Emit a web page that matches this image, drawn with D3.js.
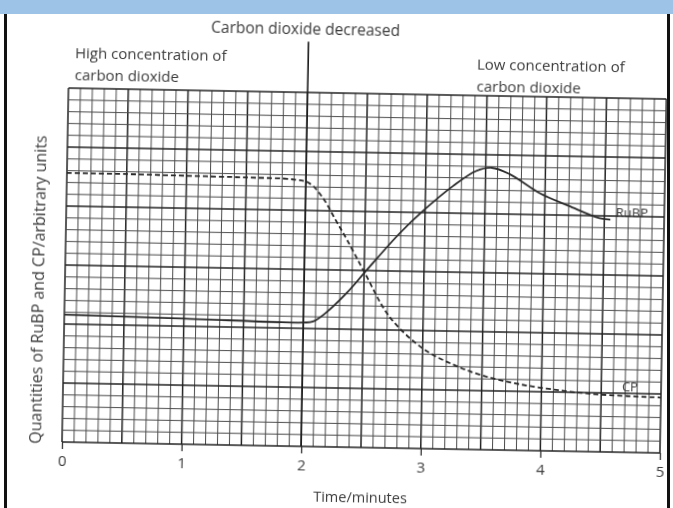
<!DOCTYPE html>
<html>
<head>
<meta charset="utf-8">
<script src="https://cdn.jsdelivr.net/npm/d3@7"></script>
<style>
  body { margin: 0; background: #fff; }
  svg { display: block; }
  .lbl { font-family: "Open Sans", sans-serif; fill: #3c3c3c; }
</style>
</head>
<body>
<div id="chart"></div>
<script>
// time in minutes, quantities in small grid squares (arbitrary units)
var cpTime = [0, 0.5, 1, 1.5, 1.9, 2.03, 2.15, 2.25, 2.35, 2.5, 2.72, 3.0, 3.25, 3.5, 3.82, 4.2, 4.5, 5.0];
var cpValue = [22.8, 22.8, 22.75, 22.7, 22.6, 22.3, 21.0, 19.3, 17.6, 14.9, 11.1, 8.5, 7.2, 6.3, 5.6, 5.1, 4.85, 4.7];

var rubpTime = [0, 1, 2.0, 2.08, 2.18, 2.36, 2.51, 2.79, 3.0, 3.23, 3.42, 3.55, 3.7, 3.96, 4.2, 4.46, 4.55];
var rubpValue = [10.8, 10.65, 10.5, 10.6, 11.3, 13.1, 14.9, 18.2, 20.3, 22.3, 23.6, 23.9, 23.4, 21.8, 20.8, 19.8, 19.7];

var xTicks = [0, 1, 2, 3, 4, 5];
var co2DropTime = 2;

var svgWidth = 673;
var svgHeight = 508;

// plot frame (the scan is tilted a little clockwise)
var origin = { x: 62, y: 442 };
var tilt = 1.05;
var width = 598;
var height = 354;

var svg = d3.select("#chart")
  .append("svg")
  .attr("width", svgWidth)
  .attr("height", svgHeight);

// blue header band and black side borders
svg.append("rect")
  .attr("x", 0).attr("y", 0)
  .attr("width", svgWidth).attr("height", 14)
  .attr("fill", "#9dc3e6");
svg.append("rect")
  .attr("x", 4).attr("y", 14)
  .attr("width", 3).attr("height", svgHeight - 14)
  .attr("fill", "#111");
svg.append("rect")
  .attr("x", 667).attr("y", 14)
  .attr("width", 3).attr("height", svgHeight - 14)
  .attr("fill", "#111");

var defs = svg.append("defs");
defs.append("filter").attr("id", "scan")
  .append("feGaussianBlur").attr("stdDeviation", 0.35);

var chartGroup = svg.append("g")
  .attr("transform", `translate(${origin.x}, ${origin.y}) rotate(${tilt})`)
  .attr("filter", "url(#scan)");

var x = d3.scaleLinear().domain([0, 5]).range([0, width]);
var y = d3.scaleLinear().domain([0, 30]).range([0, -height]);

// graph paper: minor every square, major every 5 squares
var vLines = d3.range(0, 51).map(function (i) { return i / 10; });
var hLines = d3.range(0, 31);

chartGroup.append("g")
  .selectAll("line")
  .data(vLines)
  .enter()
  .append("line")
  .attr("x1", function (d) { return x(d); })
  .attr("x2", function (d) { return x(d); })
  .attr("y1", y(0))
  .attr("y2", y(30))
  .attr("stroke", function (d, i) { return i % 5 === 0 ? "#222" : "#4a4a4a"; })
  .attr("stroke-width", function (d, i) { return i % 5 === 0 ? 1.5 : 1; });

chartGroup.append("g")
  .selectAll("line")
  .data(hLines)
  .enter()
  .append("line")
  .attr("x1", x(0))
  .attr("x2", x(5))
  .attr("y1", function (d) { return y(d); })
  .attr("y2", function (d) { return y(d); })
  .attr("stroke", function (d) { return d % 5 === 0 ? "#222" : "#4a4a4a"; })
  .attr("stroke-width", function (d) { return d % 5 === 0 ? 1.5 : 1; });

// x axis ticks and labels
var xAxis = d3.axisBottom(x)
  .tickValues(xTicks)
  .tickFormat(d3.format("d"))
  .tickSize(7)
  .tickPadding(6);

var axisG = chartGroup.append("g").call(xAxis);
axisG.select(".domain").remove();
axisG.selectAll(".tick line").attr("stroke", "#333").attr("stroke-width", 1.3);
axisG.selectAll(".tick text")
  .attr("class", "lbl")
  .style("font-size", "15px")
  .attr("fill", "#444");

// carbon dioxide decreased marker
chartGroup.append("line")
  .attr("x1", x(co2DropTime)).attr("x2", x(co2DropTime))
  .attr("y1", y(0)).attr("y2", y(34.3))
  .attr("stroke", "#1a1a1a")
  .attr("stroke-width", 1.6);

var line = d3.line()
  .x(function (d) { return x(d[0]); })
  .y(function (d) { return y(d[1]); })
  .curve(d3.curveCatmullRom.alpha(0.5));

chartGroup.append("path")
  .datum(d3.zip(cpTime, cpValue))
  .attr("d", line)
  .attr("fill", "none")
  .attr("stroke", "#2a2a2a")
  .attr("stroke-width", 1.8)
  .attr("stroke-dasharray", "5,3");

chartGroup.append("path")
  .datum(d3.zip(rubpTime, rubpValue))
  .attr("d", line)
  .attr("fill", "none")
  .attr("stroke", "#2a2a2a")
  .attr("stroke-width", 1.8);

// curve labels
chartGroup.append("text")
  .attr("class", "lbl")
  .attr("x", x(4.73)).attr("y", y(19.9))
  .attr("text-anchor", "middle")
  .style("font-size", "13px")
  .text("RuBP");

chartGroup.append("text")
  .attr("class", "lbl")
  .attr("x", x(4.74)).attr("y", y(5.2))
  .attr("text-anchor", "middle")
  .style("font-size", "13px")
  .text("CP");

// annotations above the grid
chartGroup.append("text")
  .attr("class", "lbl")
  .attr("x", 236).attr("y", -412)
  .attr("text-anchor", "middle")
  .style("font-size", "15.5px")
  .text("Carbon dioxide decreased");

chartGroup.append("text")
  .attr("class", "lbl")
  .attr("x", 6).attr("y", -384)
  .style("font-size", "15px")
  .text("High concentration of");
chartGroup.append("text")
  .attr("class", "lbl")
  .attr("x", 6).attr("y", -362)
  .style("font-size", "15px")
  .text("carbon dioxide");

chartGroup.append("text")
  .attr("class", "lbl")
  .attr("x", 408).attr("y", -380)
  .style("font-size", "15px")
  .text("Low concentration of");
chartGroup.append("text")
  .attr("class", "lbl")
  .attr("x", 408).attr("y", -358)
  .style("font-size", "15px")
  .text("carbon dioxide");

// axis titles
chartGroup.append("text")
  .attr("class", "lbl")
  .attr("transform", "translate(-27, -152) rotate(-90)")
  .attr("text-anchor", "middle")
  .attr("dy", "0.35em")
  .style("font-size", "16px")
  .text("Quantities of RuBP and CP/arbitrary units");

chartGroup.append("text")
  .attr("class", "lbl")
  .attr("x", x(2.5)).attr("y", 55)
  .attr("text-anchor", "middle")
  .style("font-size", "14.5px")
  .text("Time/minutes");
</script>
</body>
</html>
